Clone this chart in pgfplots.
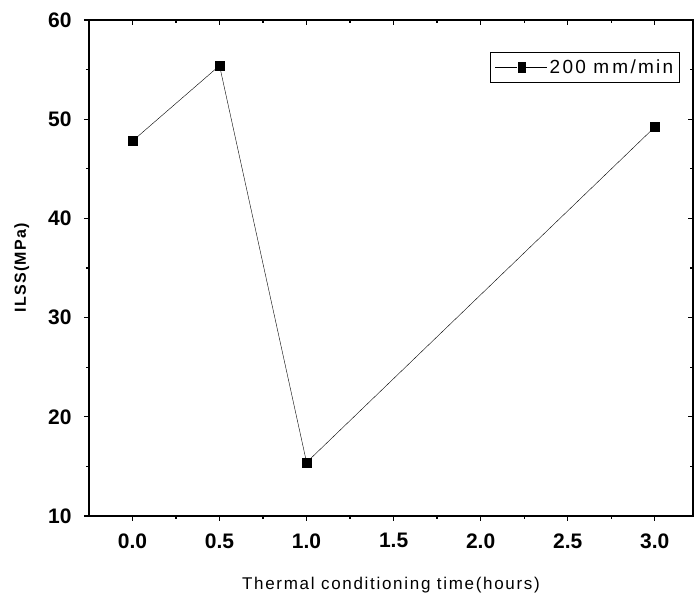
\documentclass[border=0pt]{standalone}
\usepackage{pgfplots}
\pgfplotsset{compat=1.18}
\usepackage{fontspec}
\setmainfont{Liberation Sans}
\usetikzlibrary{calc}
\begin{document}
\begin{tikzpicture}
\begin{axis}[
  scale only axis,
  width=604pt, height=496pt,
  xmin=-0.25, xmax=3.22,
  ymin=10, ymax=60,
  xtick={0,0.5,...,3}, ytick={10,20,...,60},
  minor x tick num=1, minor y tick num=1,
  tick pos=left, tick align=outside,
  major tick length=5pt, minor tick length=3pt,
  axis line style={line width=1.6pt},
  every tick/.style={line width=1.3pt, black},
  xticklabel style={font=\fontsize{21}{24}\selectfont\bfseries, /pgf/number format/fixed, /pgf/number format/fixed zerofill, /pgf/number format/precision=1, yshift=-9pt},
  yticklabel style={font=\fontsize{21}{24}\selectfont\bfseries, xshift=-9pt},
  /pgf/number format/assume math mode=true,
  xlabel={Thermal conditioning time(hours)},
  xlabel style={font=\fontsize{17}{20}\selectfont\addfontfeature{LetterSpace=10}, yshift=-22pt},
  ylabel={ILSS(MPa)},
  ylabel style={font=\fontsize{16}{19}\selectfont\bfseries\addfontfeature{LetterSpace=8}, yshift=12pt},
  legend style={at={(0.978,0.935)}, anchor=north east, draw=black, line width=0.8pt, font=\fontsize{19}{22}\selectfont\addfontfeature{LetterSpace=12}, inner xsep=4pt, inner ysep=5pt, row sep=0pt},
  legend cell align=left,
  legend image code/.code={\draw[black, line width=0.9pt] (0pt,0pt) -- (22pt,0pt);
     \draw[black, line width=0.9pt] (30pt,0pt) -- (52pt,0pt);
     \fill[black] (22.5pt,-5pt) rectangle (29.5pt,5pt);},
]
\addplot[black, thin, mark=square*, mark size=4.5pt, mark options={solid, fill=black}]
  coordinates {(0,47.8) (0.5,55.4) (1.0,15.4) (3.0,49.2)};
\addlegendentry{200 m\,m/min}
\end{axis}
\begin{axis}[
  scale only axis,
  width=604pt, height=496pt,
  xmin=-0.25, xmax=3.22,
  ymin=10, ymax=60,
  xtick={0,0.5,...,3}, ytick={10,20,...,60},
  minor x tick num=1, minor y tick num=1,
  tick pos=right, tick align=inside,
  major tick length=5pt, minor tick length=3pt,
  axis line style={line width=1.6pt},
  every tick/.style={line width=1.3pt, black},
  xticklabels={}, yticklabels={},
]
\end{axis}
\pgfresetboundingbox
\path[use as bounding box] ($(current axis.south west)+(-89pt,-87pt)$) rectangle ($(current axis.north east)+(1pt,20pt)$);
\end{tikzpicture}
\end{document}
